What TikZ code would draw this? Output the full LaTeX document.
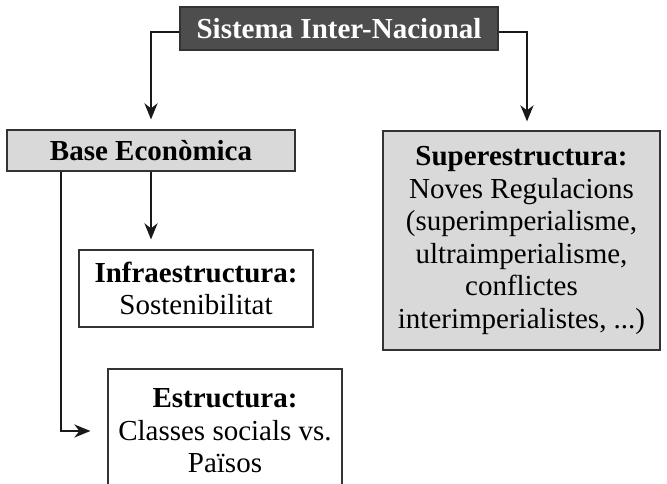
\documentclass[tikz,border=0pt]{standalone}
\usepackage{fontspec}
\setmainfont{Liberation Serif}
\usetikzlibrary{arrows.meta}
\definecolor{darkbox}{HTML}{4D4D4D}
\definecolor{lightbox}{HTML}{D9D9D9}
\definecolor{edge}{HTML}{333333}
\tikzset{
  boxbase/.style={draw=edge, line width=1.2pt, inner sep=0pt, align=center,
    font=\fontsize{29}{32.5}\selectfont},
  darkstyle/.style={boxbase, fill=darkbox, text=white, font=\fontsize{29}{32.5}\selectfont\bfseries},
  greystyle/.style={boxbase, fill=lightbox},
  whitestyle/.style={boxbase, fill=white},
  conn/.style={line width=2.4pt, draw=black!90, arrows={-Stealth[length=16pt,width=13pt,inset=5pt]}}
}
\begin{document}
\begin{tikzpicture}[x=1pt,y=-1pt]
\clip (0,0) rectangle (667,484);
\fill[white] (0,0) rectangle (667,484);
\node[darkstyle, minimum width=318pt, minimum height=43pt] (top) at (339,28.5) {Sistema Inter-Nacional};
\node[greystyle, minimum width=288pt, minimum height=41pt] (base) at (151,150.5) {\textbf{Base Econòmica}};
\node[whitestyle, minimum width=234pt, minimum height=77pt] (infra) at (196,288.5) {\textbf{Infraestructura:}\\Sostenibilitat};
\node[whitestyle, minimum width=234pt, minimum height=124pt] (estr) at (225,431) {\textbf{Estructura:}\\Classes socials vs.\\Països};
\node[greystyle, minimum width=277pt, minimum height=219pt] (super) at (521.5,240.5) {\textbf{Superestructura:}\\Noves Regulacions\\(superimperialisme,\\ultraimperialisme,\\conflictes\\interimperialistes, ...)};
\coordinate (tl) at ([yshift=-3.5pt]top.west);
\coordinate (tr) at ([yshift=-3.5pt]top.east);
\coordinate (tb) at ([yshift=10pt]base.north);
\coordinate (ts) at ([xshift=5.5pt,yshift=9pt]super.north);
\coordinate (ti) at ([yshift=10pt]base.south |- infra.north);
\coordinate (te) at ([xshift=-17pt]estr.west);
\draw[conn] (tl) -| (tb);
\draw[conn] (tr) -| (ts);
\draw[conn] (base.south) -- (ti);
\draw[conn] ([xshift=-90pt]base.south) |- (te);
\end{tikzpicture}
\end{document}
